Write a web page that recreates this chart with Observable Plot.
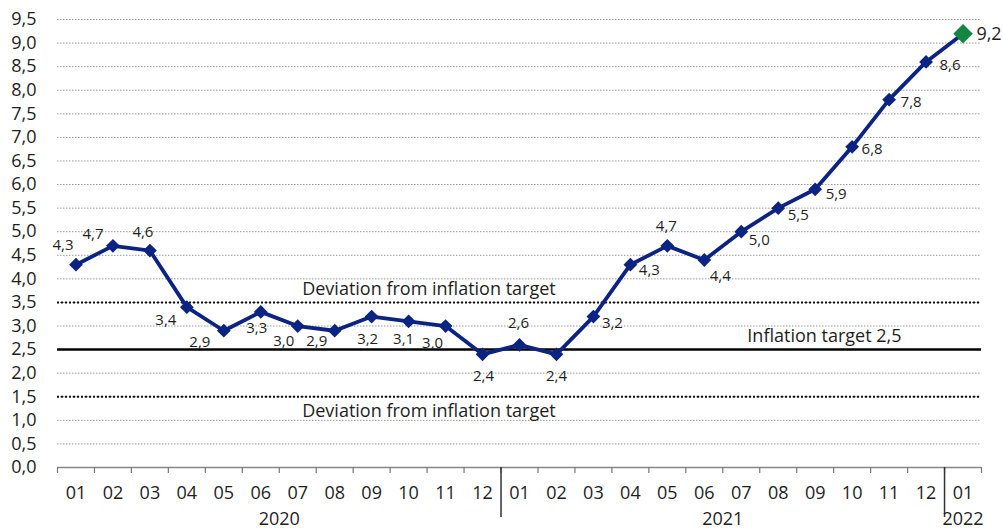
<!DOCTYPE html>
<html><head><meta charset="utf-8">
<script src="https://cdn.jsdelivr.net/npm/d3@7"></script>
<script src="https://cdn.jsdelivr.net/npm/@observablehq/plot@0.6"></script>
<style>
html,body{margin:0;padding:0;background:#fff}
#chart svg{display:block;font-family:"Open Sans",sans-serif}
</style>
</head><body><div id="chart"></div>
<script>
// ---- data ----
const months = ["01","02","03","04","05","06","07","08","09","10","11","12",
                "01","02","03","04","05","06","07","08","09","10","11","12",
                "01"];
const values = [4.3,4.7,4.6,3.4,2.9,3.3,3.0,2.9,3.2,3.1,3.0,2.4,
                2.6,2.4,3.2,4.3,4.7,4.4,5.0,5.5,5.9,6.8,7.8,8.6,
                9.2];
const years = ["2020","2021","2022"];
const yearFirstIndex = [0,12,24];
const yearLastIndex = [11,23,24];
const yTicks = [0,0.5,1,1.5,2,2.5,3,3.5,4,4.5,5,5.5,6,6.5,7,7.5,8,8.5,9,9.5];
const target = 2.5;
const deviationBand = [1.5, 3.5];
const targetLabel = "Inflation target 2,5";
const deviationLabel = "Deviation from inflation target";

// label placement (pixel offsets from each point) — style, not data
const labelOffsets = [[-13,-20],[-20,-12],[-7,-18],[-21,13],[-24,11],[-4,16],[-14,15],[-18,10],[-4,23],[-5,18],[-13,17],[1,22],
                      [-1,-22],[0,22],[19,7],[19,5],[-1,-20],[16,16],[18,8],[20,7],[21,5],[20,2],[22,3],[24,3],
                      [26,1]];

const fmt = v => v.toFixed(1).replace(".", ",");
const data = values.map((v, i) => ({i, v, m: months[i]}));
const last = data.length - 1;
const navy = "#0b2483";
const green = "#13873f";
const textColor = "#1e1e1e";

const yearData = years.map((y, k) => ({y, x: (yearFirstIndex[k] + yearLastIndex[k]) / 2}));
const boundaries = d3.range(-0.5, months.length, 1);
const separators = yearFirstIndex.slice(1).map(i => i - 0.5);

const labelMarks = data.map((d, k) => Plot.text([d], {
  x: "i", y: "v", text: dd => fmt(dd.v),
  dx: labelOffsets[k][0], dy: labelOffsets[k][1],
  fontSize: k === last ? 18 : 15, fill: textColor
}));

const chart = Plot.plot({
  width: 1003, height: 530,
  marginLeft: 57, marginRight: 22, marginTop: 19, marginBottom: 63,
  style: {fontFamily: "'Open Sans', sans-serif", background: "#fff"},
  x: {type: "linear", domain: [-0.5, months.length - 0.5], axis: null, label: null},
  y: {domain: [0, 9.5], axis: null, label: null},
  marks: [
    Plot.gridY(yTicks.filter(d => d > 0), {stroke: "#999", strokeOpacity: 1, strokeDasharray: "1.5,1.5", strokeWidth: 1}),
    Plot.axisY(yTicks, {label: null, tickSize: 0, tickPadding: 21, tickFormat: fmt, fontSize: 18, fill: textColor}),
    Plot.ruleY([0], {stroke: "#888", strokeWidth: 1.5}),
    Plot.axisX(boundaries, {label: null, tickSize: 6, tickFormat: () => "", stroke: "#777", strokeWidth: 1.2}),
    Plot.axisX(separators, {label: null, tickSize: 50, tickFormat: () => "", stroke: "#333", strokeWidth: 1.5}),
    Plot.axisX(data.map(d => d.i), {label: null, tickSize: 0, tickPadding: 19, tickFormat: i => months[i], fontSize: 18, fill: textColor}),
    Plot.text(yearData, {x: "x", y: 0, text: "y", dy: 52, fontSize: 18, fill: textColor}),
    Plot.ruleY(deviationBand, {stroke: "#111", strokeWidth: 2, strokeDasharray: "2,2"}),
    Plot.ruleY([target], {stroke: "#000", strokeWidth: 2.5}),
    Plot.text([deviationLabel], {x: 9.55, y: deviationBand[1], dy: -13, fontSize: 18, fill: textColor}),
    Plot.text([deviationLabel], {x: 9.55, y: deviationBand[0], dy: 14, fontSize: 18, fill: textColor}),
    Plot.text([targetLabel], {x: 20.25, y: target, dy: -13, fontSize: 18, fill: textColor}),
    Plot.line(data, {x: "i", y: "v", stroke: navy, strokeWidth: 3.8}),
    Plot.dot(data.slice(0, last), {x: "i", y: "v", symbol: "diamond2", r: 6.2, fill: navy}),
    Plot.dot([data[last]], {x: "i", y: "v", symbol: "diamond2", r: 8.8, fill: green}),
    ...labelMarks
  ]
});
document.getElementById("chart").appendChild(chart);
</script>
</body></html>
